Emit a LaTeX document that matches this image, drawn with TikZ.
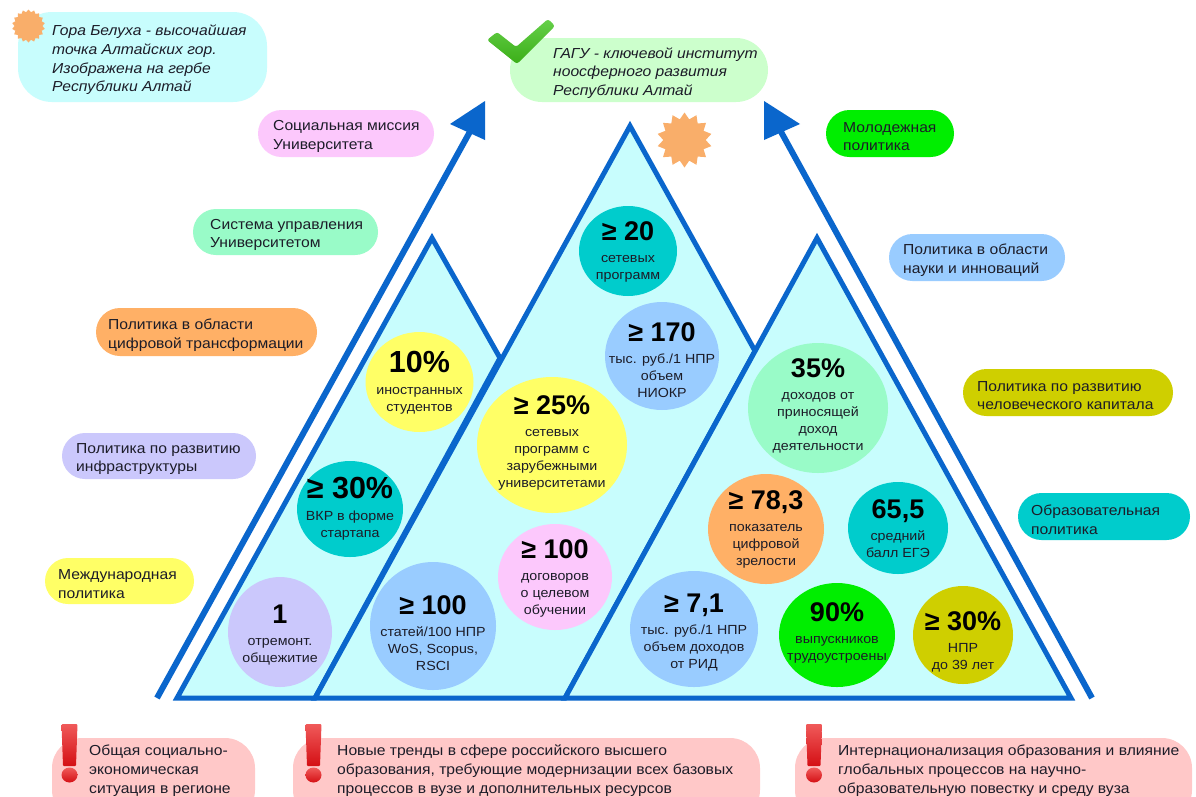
\documentclass[tikz,border=0pt]{standalone}
\usepackage{fontspec}
\setmainfont[FakeStretch=1.08]{Liberation Sans}
\newfontfamily\bignum[FakeStretch=1.0]{Liberation Sans}
\usetikzlibrary{shapes.geometric}
\definecolor{ln}{HTML}{0A66CC}
\definecolor{tri}{HTML}{C8FDFD}
\definecolor{cy}{HTML}{00CCCC}
\definecolor{bl}{HTML}{99CCFF}
\definecolor{ye}{HTML}{FFFF66}
\definecolor{pi}{HTML}{FCC8FC}
\definecolor{mi}{HTML}{99FBC8}
\definecolor{ora}{HTML}{FFB066}
\definecolor{li}{HTML}{CBC8FC}
\definecolor{gr}{HTML}{00EE00}
\definecolor{ol}{HTML}{CFCF00}
\definecolor{lg}{HTML}{CCFFCC}
\definecolor{ro}{HTML}{FFC8C8}
\definecolor{txt}{HTML}{1C1C28}
\definecolor{sunc}{HTML}{F9AE6A}
\definecolor{F1}{HTML}{F05A5A}
\definecolor{F2}{HTML}{D40F14}
\definecolor{G1}{HTML}{66D04A}
\definecolor{G2}{HTML}{3BAE18}
\tikzset{
  lab/.style={anchor=west,align=left,text=txt,inner sep=0pt,yshift=-3pt,font=\fontsize{14.5}{18.7}\selectfont},
  labi/.style={lab,font=\fontsize{14.5}{18.7}\selectfont\itshape},
  nums/.style={align=center,text=txt,inner sep=0pt,yshift=-2.5pt,font=\fontsize{13.2}{17}\selectfont},
  tria/.style={draw=ln,fill=tri,line width=5pt,line join=miter},
  shaft/.style={draw=ln,line width=6pt},
  head/.style={fill=ln},
  sunst/.style={star,fill=sunc,inner sep=0pt},
  excl/.style={top color=F1,bottom color=F2},
}
\newcommand{\mypill}[9]{%
  \pgfmathsetmacro{\myr}{min(0.5*(#5-#3),34)}%
  \fill[#6,rounded corners=\myr pt] (#2,#3) rectangle (#4,#5);
  \node[#9] (#1) at (#7,{0.5*(#3+#5)}) {#8};}
\newcommand{\myblob}[9]{%
  \fill[#6] (#2,#3) ellipse [x radius=#4,y radius=#5];
  \node[nums] (#1) at (#2,#7) {{\fontsize{27}{29}\bignum\bfseries\color{black}#8}\\[5pt]#9};}
\newcommand{\lgnum}[1]{\fontsize{30.5}{32}\selectfont #1}
\begin{document}
\begin{tikzpicture}[x=1pt,y=-1pt]
\useasboundingbox (0,0) rectangle (1196,796);
\clip (0,0) rectangle (1196,796);
\fill[white] (0,0) rectangle (1196,796);
% big arrows
\coordinate (lf) at (157,698); \coordinate (lt) at (472,128);
\coordinate (rf) at (1092,698); \coordinate (rt) at (780,130);
\draw[shaft] (lf) -- (lt);
\draw[shaft] (rf) -- (rt);
\fill[head] (485,101) -- (450,124) -- (485,140) -- cycle;
\fill[head] (764,101) -- (800,124) -- (764,140) -- cycle;
% triangles
\draw[tria] (177,698) -- (432,238) -- (500,358) -- (315,698) -- cycle;
\draw[tria] (315,698) -- (630,126) -- (755,351) -- (565,698) -- cycle;
\draw[tria] (565,698) -- (817,238) -- (1071,698) -- cycle;
% pills
\mypill{p1}{18}{12}{267}{102}{tri}{52}{Гора Белуха - высочайшая\\точка Алтайских гор.\\Изображена на гербе\\Республики Алтай}{labi}
\mypill{p2}{510}{38}{768}{102}{lg}{553}{ГАГУ - ключевой институт\\ноосферного развития\\Республики Алтай}{labi}
\mypill{p3}{258}{110}{434}{157}{pi}{273}{Социальная миссия\\Университета}{lab}
\mypill{p4}{193}{209}{378}{255}{mi}{210}{Система управления\\Университетом}{lab}
\mypill{p5}{96}{308}{317}{356}{ora}{108}{Политика в области\\цифровой трансформации}{lab}
\mypill{p6}{62}{433}{256}{479}{li}{76}{Политика по развитию\\инфраструктуры}{lab}
\mypill{p7}{45}{558}{194}{604}{ye}{58}{Международная\\политика}{lab}
\mypill{p8}{826}{110}{954}{157}{gr}{843}{Молодежная\\политика}{lab}
\mypill{p9}{889}{234}{1065}{281}{bl}{903}{Политика в области\\науки и инноваций}{lab}
\mypill{p10}{963}{369}{1173}{416}{ol}{977}{Политика по развитию\\человеческого капитала}{lab}
\mypill{p11}{1018}{493}{1190}{540}{cy}{1031}{Образовательная\\политика}{lab}
\fill[ro,rounded corners=30pt] (52,738) rectangle (255,820);
\node[lab,anchor=north west] (b1) at (89,742) {Общая социально-\\экономическая\\ситуация в регионе};
\fill[ro,rounded corners=30pt] (293,738) rectangle (760,820);
\node[lab,anchor=north west] (b2) at (337,742) {Новые тренды в сфере российского высшего\\образования, требующие модернизации всех базовых\\процессов в вузе и дополнительных ресурсов};
\fill[ro,rounded corners=30pt] (795,738) rectangle (1192,820);
\node[lab,anchor=north west] (b3) at (838,742) {Интернационализация образования и влияние\\глобальных процессов на научно-\\образовательную повестку и среду вуза};
% exclamation marks
\foreach \ex in {69.5,313.5,814}{
  \shade[excl,rounded corners=1pt] (\ex-8,724) -- (\ex+8,724) -- (\ex+6.5,766) -- (\ex-6.5,766) -- cycle;
  \shade[excl] (\ex,775) ellipse [x radius=8,y radius=7.5];
}
% suns
\node[sunst,star points=14,star point ratio=1.3,minimum size=55pt] (sunb) at (684.5,140) {};
\node[sunst,star points=18,star point ratio=1.18,minimum size=33pt] (suns) at (28.5,26) {};
% check mark
\shade[top color=G1,bottom color=G2,rounded corners=2.5pt]
  (487,40) -- (497,32) -- (516,47) -- (548,19) -- (555,26) -- (517,64) -- cycle;
% circles
\myblob{c1}{628}{251}{49}{45}{cy}{249}{≥ 20}{сетевых\\программ}
\myblob{c2}{662}{356}{57}{54}{bl}{358}{≥ 170}{тыс. руб./1 НПР\\объем\\НИОКР}
\myblob{c3}{552}{445}{75}{68}{ye}{440}{≥ 25\%}{сетевых\\программ с\\зарубежными\\университетами}
\myblob{c4}{419.5}{382}{54}{50}{ye}{380}{\lgnum{10\%}}{иностранных\\студентов}
\myblob{c5}{350}{509}{53}{48}{cy}{506}{\lgnum{≥ 30\%}}{ВКР в форме\\стартапа}
\myblob{c6}{280}{632}{52}{55}{li}{633}{1}{отремонт.\\общежитие}
\myblob{c7}{433}{626}{63}{64}{bl}{631}{≥ 100}{статей/100 НПР\\WoS, Scopus,\\RSCI}
\myblob{c8}{555}{577}{57}{53}{pi}{576}{≥ 100}{договоров\\о целевом\\обучении}
\myblob{c9}{818}{408}{70}{65}{mi}{403}{35\%}{доходов от\\приносящей\\доход\\деятельности}
\myblob{c10}{766}{529}{58}{55}{ora}{527}{≥ 78,3}{показатель\\цифровой\\зрелости}
\myblob{c11}{898}{528}{50}{46}{cy}{526}{65,5}{средний\\балл ЕГЭ}
\myblob{c12}{694}{629}{64}{58}{bl}{630}{≥ 7,1}{тыс. руб./1 НПР\\объем доходов\\от РИД}
\myblob{c13}{837}{635}{58}{52}{gr}{630}{90\%}{выпускников\\трудоустроены}
\myblob{c14}{963}{635}{50}{49}{ol}{639}{≥ 30\%}{НПР\\до 39 лет}
\end{tikzpicture}
\end{document}
